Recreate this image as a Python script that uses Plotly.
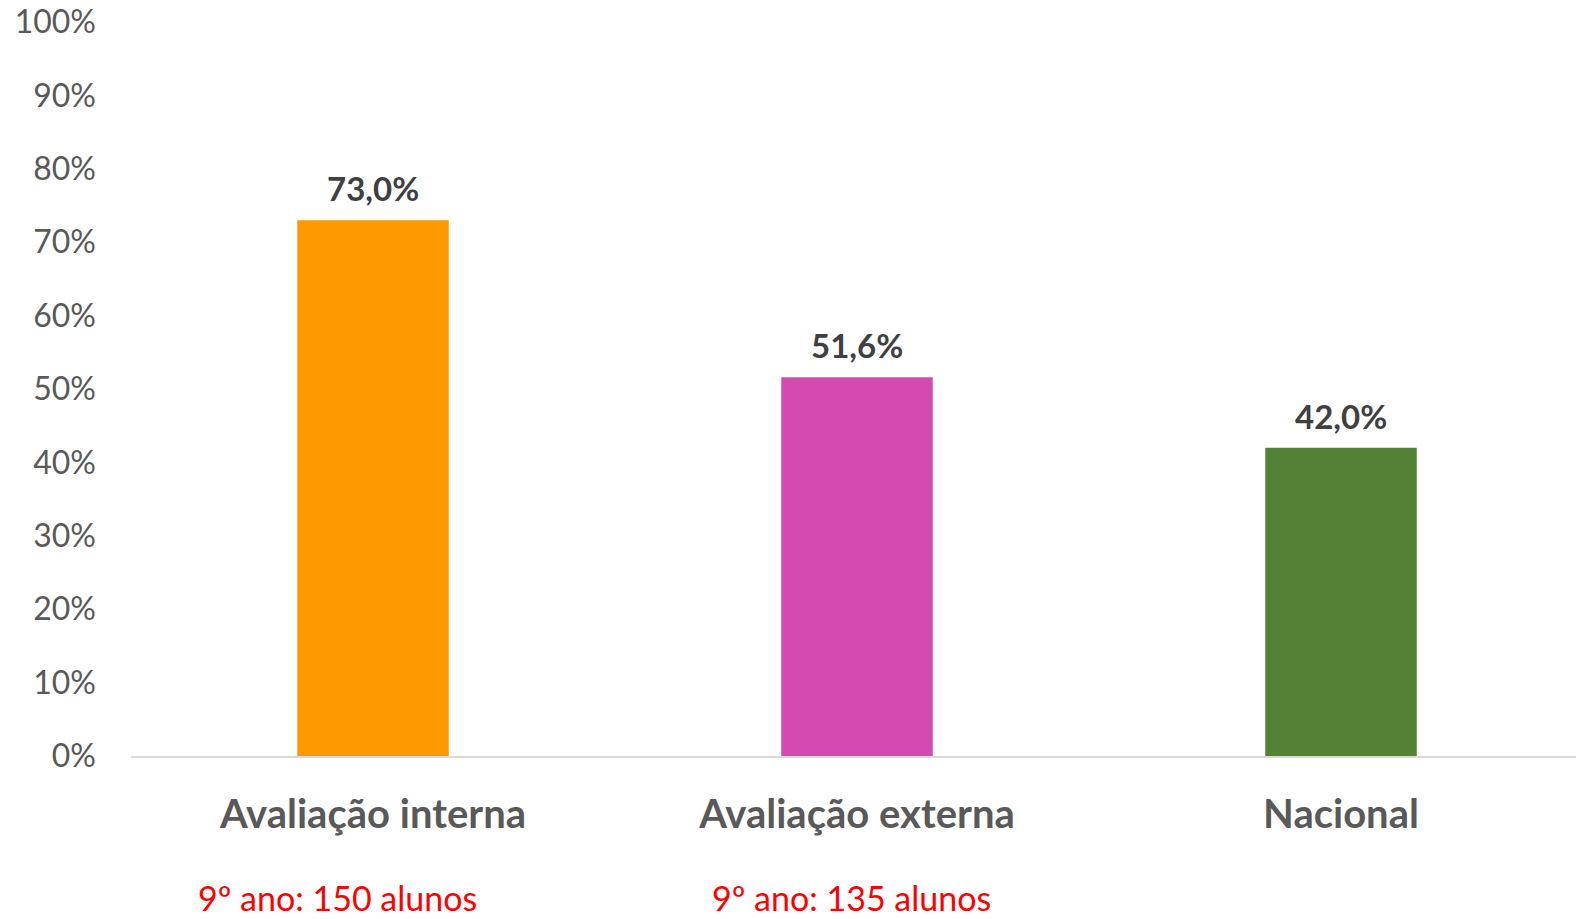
import plotly.graph_objects as go

categories = ['Avaliação interna', 'Avaliação externa', 'Nacional']
values = [0.730, 0.516, 0.420]
bar_colors = ['#FF9900', '#D54AB0', '#538135']
notes = ['9º ano: 150 alunos', '9º ano: 135 alunos']
note_pos = [0.142, 0.496]

font_family = 'Lato, Open Sans, sans-serif'

fig = go.Figure()
fig.add_trace(go.Bar(
    x=categories,
    y=values,
    marker=dict(color=bar_colors, line=dict(width=0)),
    hovertemplate='%{x}: %{y:.1%}<extra></extra>'
))

# value labels above bars
for cat, val in zip(categories, values):
    fig.add_annotation(
        x=cat, y=val, xref='x', yref='y',
        text='{:.1f}%'.format(val * 100).replace('.', ','),
        showarrow=False, yanchor='bottom', yshift=10,
        font=dict(family=font_family, size=33, color='#404040', weight=700)
    )

# notes under the category labels
for txt, xp in zip(notes, note_pos):
    fig.add_annotation(
        x=xp, y=-0.193, xref='paper', yref='paper',
        text=txt, showarrow=False, xanchor='center', yanchor='middle',
        font=dict(family=font_family, size=34, color='#FF0000')
    )

# the page body adds an 8px offset, so the figure is 8px smaller
fig.update_layout(
    width=1576, height=911,
    margin=dict(l=123, r=1, t=14, b=163),
    paper_bgcolor='white',
    plot_bgcolor='white',
    separators=',.',
    bargap=0.687,
    showlegend=False,
    font=dict(family=font_family, color='#595959')
)
fig.update_yaxes(
    range=[0, 1], dtick=0.1, tickformat='.0%',
    showgrid=False, zeroline=False, showline=False,
    ticklabelstandoff=34, ticklabeloverflow='allow', automargin=False,
    tickfont=dict(family=font_family, size=32, color='#595959')
)
fig.update_xaxes(
    showline=True, linecolor='#D9D9D9', linewidth=2,
    showgrid=False, ticks='', automargin=False,
    ticklabelstandoff=22,
    tickfont=dict(family=font_family, size=40, color='#595959', weight=700)
)

fig.write_html('out.html')
